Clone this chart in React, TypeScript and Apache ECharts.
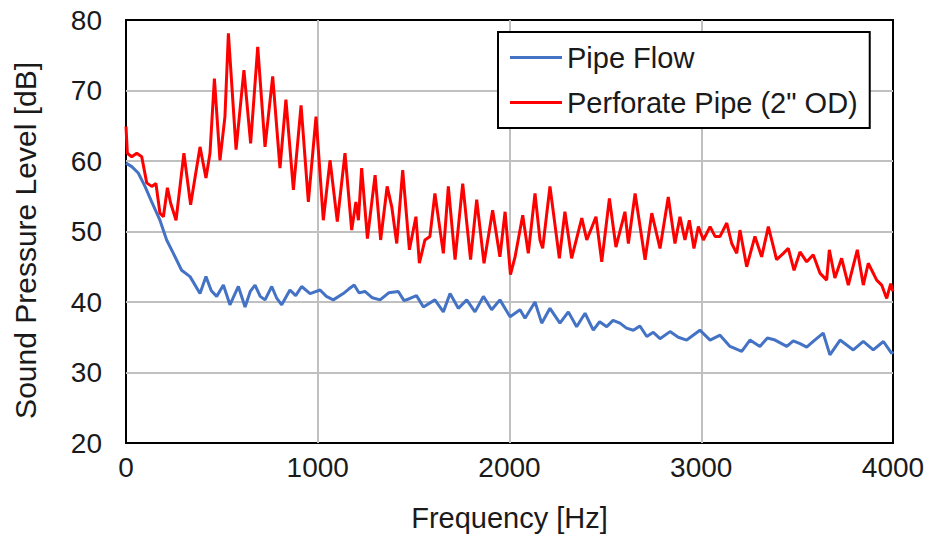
import React, { useEffect, useRef } from "react";
import * as echarts from "echarts";

// Pipe Flow spectrum (frequency in Hz, level in dB)
const pipeFlowFreq = [
  0, 30, 64, 99, 134, 177, 212, 247, 290, 334, 386, 417, 445, 473, 508, 542, 586, 621, 648, 673, 700,
  725, 760, 785, 812, 855, 885, 916, 960, 1012, 1045, 1081, 1133, 1160, 1190, 1215, 1246, 1285, 1325,
  1370, 1420, 1450, 1481, 1515, 1551, 1611, 1655, 1690, 1733, 1777, 1820, 1864, 1907, 1950, 2003,
  2055, 2081, 2133, 2168, 2211, 2263, 2307, 2350, 2394, 2437, 2470, 2507, 2540, 2576, 2610, 2646,
  2680, 2716, 2750, 2785, 2837, 2880, 2924, 2993, 3046, 3098, 3150, 3211, 3254, 3306, 3345, 3385,
  3446, 3480, 3515, 3550, 3584, 3636, 3671, 3724, 3793, 3845, 3897, 3950, 3993, 4000,
];
const pipeFlowLevel = [
  59.7, 59.2, 58.3, 56.4, 54.2, 51.6, 48.8, 46.9, 44.5, 43.6, 41.2, 43.6, 41.6, 40.8, 42.4, 39.6,
  42.2, 39.3, 41.5, 42.4, 40.8, 40.3, 42.2, 40.6, 39.6, 41.7, 40.9, 42.2, 41.2, 41.7, 40.8, 40.3,
  41.2, 41.8, 42.4, 41.3, 41.5, 40.6, 40.3, 41.3, 41.5, 40.2, 40.5, 40.9, 39.3, 40.3, 38.6, 41.2,
  39.1, 40.3, 38.6, 40.8, 38.9, 40.3, 37.9, 38.9, 37.7, 40.0, 37.0, 39.1, 37.0, 38.6, 36.5, 38.4,
  36.0, 37.2, 36.5, 37.4, 37.0, 36.3, 36.0, 36.6, 35.1, 35.7, 34.8, 35.8, 35.0, 34.6, 36.0, 34.6,
  35.3, 33.7, 33.0, 34.6, 33.7, 34.9, 34.6, 33.7, 34.5, 34.1, 33.6, 34.4, 35.6, 32.5, 34.6, 33.2,
  34.4, 33.2, 34.4, 32.7, 33.0,
];

// Perforate Pipe (2" OD) spectrum
const perforateFreq = [
  0, 7, 30, 56, 82, 108, 134, 156, 177, 195, 216, 233, 261, 302, 337, 386, 417, 438, 461, 490, 516,
  534, 574, 615, 650, 687, 725, 765, 803, 834, 873, 913, 951, 991, 1029, 1064, 1102, 1142, 1177,
  1199, 1212, 1229, 1259, 1299, 1328, 1362, 1386, 1412, 1443, 1478, 1512, 1530, 1559, 1585, 1611,
  1655, 1681, 1716, 1756, 1797, 1829, 1867, 1912, 1950, 1977, 2005, 2029, 2069, 2098, 2133, 2159,
  2173, 2211, 2260, 2289, 2324, 2377, 2403, 2451, 2481, 2521, 2555, 2602, 2620, 2655, 2707, 2742,
  2785, 2828, 2863, 2889, 2915, 2938, 2962, 2985, 3011, 3046, 3072, 3098, 3133, 3159, 3185, 3202,
  3237, 3280, 3315, 3350, 3393, 3428, 3454, 3484, 3515, 3550, 3584, 3619, 3654, 3668, 3697, 3732,
  3767, 3814, 3845, 3871, 3915, 3941, 3967, 3988, 4000,
];
const perforateLevel = [
  64.9, 61.1, 60.6, 61.1, 60.6, 56.9, 56.4, 56.8, 52.6, 52.1, 56.2, 54.0, 51.6, 61.1, 53.8, 62.0,
  57.6, 61.1, 71.7, 60.1, 66.3, 78.1, 61.6, 72.9, 62.5, 76.2, 62.0, 72.0, 59.0, 68.7, 55.9, 67.9,
  54.2, 66.3, 51.6, 60.1, 51.4, 61.1, 50.2, 54.2, 51.6, 59.0, 49.0, 58.0, 48.8, 56.4, 53.5, 48.3,
  58.7, 47.4, 52.1, 45.5, 48.8, 49.3, 55.4, 46.9, 56.4, 46.0, 56.8, 46.0, 54.5, 45.5, 53.0, 46.4,
  52.8, 43.9, 46.4, 52.3, 46.9, 55.4, 48.8, 47.6, 56.4, 46.2, 52.8, 46.2, 51.9, 48.8, 52.1, 45.7,
  54.7, 47.8, 52.8, 48.3, 55.4, 46.0, 52.6, 47.6, 54.9, 48.3, 52.1, 48.8, 51.6, 47.6, 50.7, 48.8,
  50.7, 49.3, 49.3, 51.2, 48.3, 46.9, 50.2, 45.0, 49.3, 46.4, 50.7, 46.0, 46.9, 47.6, 44.5, 47.1,
  45.7, 46.7, 44.1, 43.1, 47.4, 43.4, 46.2, 42.4, 47.4, 42.4, 45.5, 43.1, 42.4, 40.5, 42.6, 41.5,
];

const xTicks = { min: 0, max: 4000, interval: 1000 };
const yTicks = { min: 20, max: 80, interval: 10 };

const FONT = "'Liberation Sans', Arial, sans-serif";
const TEXT = "#1a1a1a";

const zip = (xs: number[], ys: number[]) => xs.map((x, i) => [x, ys[i]]);

export default function App() {
  const ref = useRef<HTMLDivElement>(null);

  useEffect(() => {
    if (!ref.current) return;
    const chart = echarts.init(ref.current, undefined, { renderer: "svg" });
    chart.setOption({
      animation: false,
      backgroundColor: "#ffffff",
      textStyle: { fontFamily: FONT },
      grid: {
        left: 126,
        top: 20,
        right: 36,
        bottom: 97,
        show: true,
        borderColor: "#000000",
        borderWidth: 2,
        backgroundColor: "transparent",
      },
      legend: {
        orient: "vertical",
        left: 498,
        top: 32,
        padding: [11, 12, 11, 12],
        itemGap: 16,
        itemWidth: 52,
        itemHeight: 3,
        icon: "rect",
        borderColor: "#000000",
        borderWidth: 2,
        backgroundColor: "#ffffff",
        textStyle: { fontSize: 29, color: TEXT, fontFamily: FONT },
        data: ["Pipe Flow", 'Perforate Pipe (2" OD)'],
      },
      graphic: [
        {
          type: "text",
          left: 10,
          top: 62,
          rotation: Math.PI / 2,
          style: {
            text: "Sound Pressure Level [dB]",
            fontSize: 30,
            fontFamily: FONT,
            fill: TEXT,
          },
        },
      ],
      xAxis: {
        type: "value",
        ...xTicks,
        name: "Frequency [Hz]",
        nameLocation: "middle",
        nameGap: 60,
        nameTextStyle: { fontSize: 29, color: TEXT, fontFamily: FONT },
        axisLine: { show: false },
        axisTick: { show: false },
        axisLabel: {
          fontSize: 28,
          color: TEXT,
          margin: 10,
          fontFamily: FONT,
          formatter: (v: number) => String(v),
        },
        splitLine: {
          show: true,
          showMinLine: false,
          showMaxLine: false,
          lineStyle: { color: "#c0c0c0", width: 2 },
        },
      },
      yAxis: {
        type: "value",
        ...yTicks,
        axisLine: { show: false },
        axisTick: { show: false },
        axisLabel: { fontSize: 28, color: TEXT, margin: 24, fontFamily: FONT },
        splitLine: {
          show: true,
          showMinLine: false,
          showMaxLine: false,
          lineStyle: { color: "#c0c0c0", width: 2 },
        },
      },
      series: [
        {
          name: "Pipe Flow",
          type: "line",
          data: zip(pipeFlowFreq, pipeFlowLevel),
          showSymbol: false,
          symbol: "none",
          lineStyle: { color: "#4472c4", width: 3 },
          itemStyle: { color: "#4472c4" },
          z: 3,
        },
        {
          name: 'Perforate Pipe (2" OD)',
          type: "line",
          data: zip(perforateFreq, perforateLevel),
          showSymbol: false,
          symbol: "none",
          lineStyle: { color: "#ff0000", width: 3 },
          itemStyle: { color: "#ff0000" },
          z: 4,
        },
      ],
    });
    return () => chart.dispose();
  }, []);

  return <div ref={ref} style={{ width: 929, height: 540, position: "absolute", left: 0, top: 0 }} />;
}
